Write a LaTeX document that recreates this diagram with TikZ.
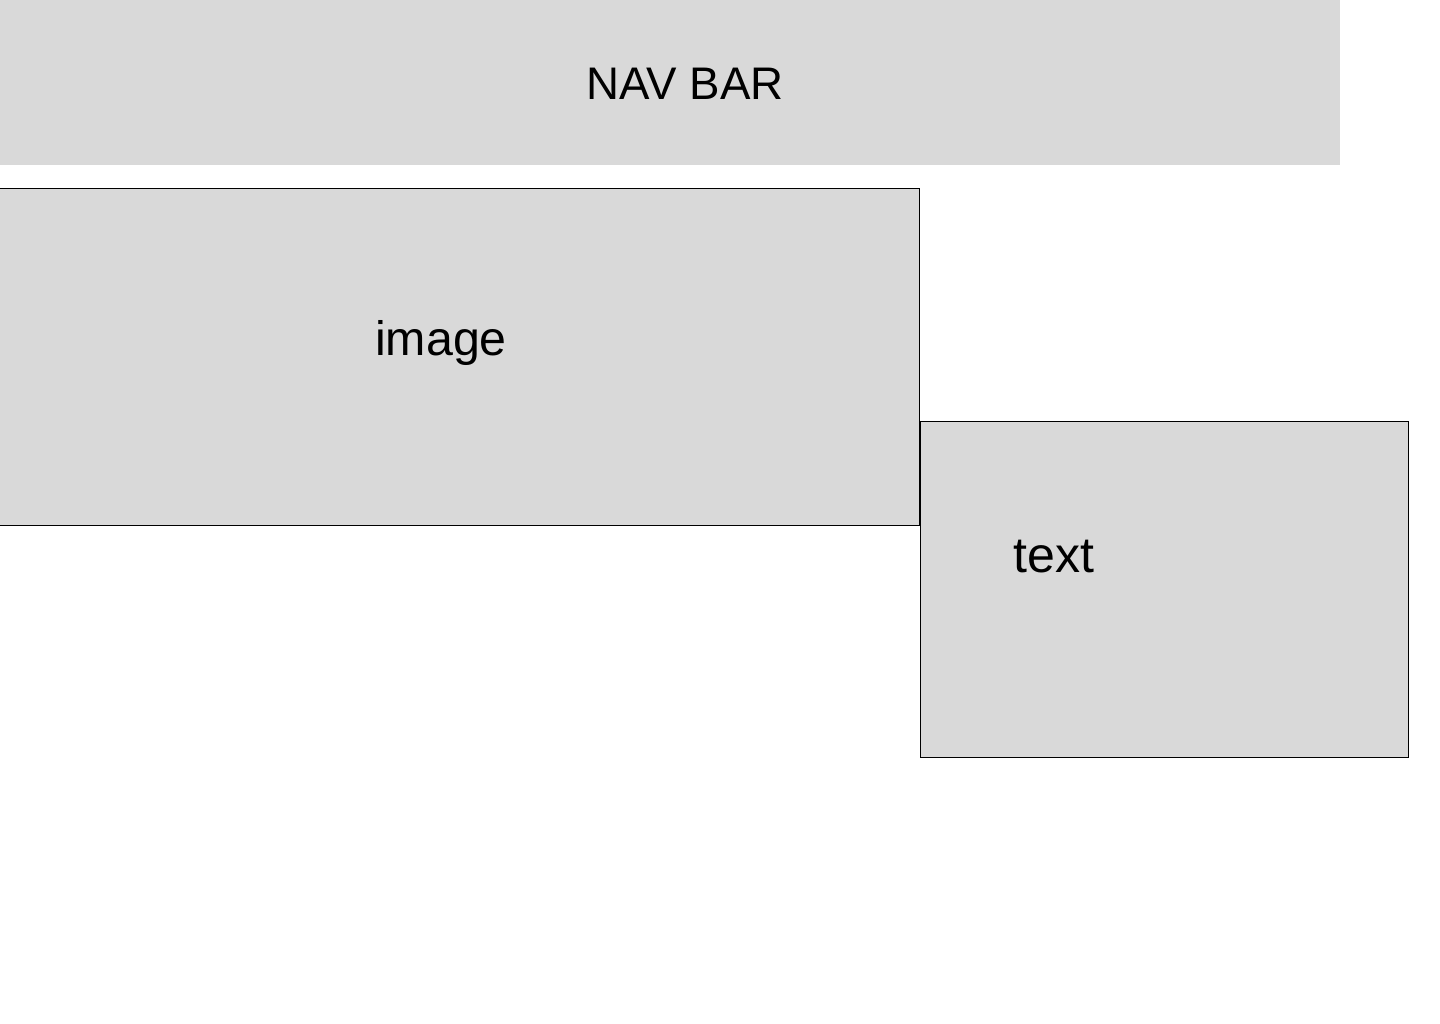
\documentclass[tikz,border=0pt]{standalone}
\usepackage{fontspec}
\setmainfont{Liberation Sans}
\usepackage{xcolor}
\definecolor{panelgray}{HTML}{D9D9D9}
\usetikzlibrary{positioning}

\begin{document}
\begin{tikzpicture}[
  x=0.02cm, y=-0.02cm,
  navbox/.style={rectangle, fill=panelgray, inner sep=0pt, anchor=north west},
  panel/.style={rectangle, draw=black, line width=0.6pt, fill=panelgray, inner sep=0pt, anchor=north west},
  caption/.style={anchor=base, inner sep=0pt, font=\fontsize{26}{30}\selectfont}
]
\useasboundingbox (0,0) rectangle (1440,1024);
% Boxes
\node[navbox, minimum width=26.8cm,  minimum height=3.3cm]  (nav)   at (0,0)     {};
\node[panel,  minimum width=18.42cm, minimum height=6.74cm] (image) at (-2,188)  {};
\node[panel,  minimum width=9.76cm,  minimum height=6.72cm] (text)  at (920,421) {};

% Labels
\node[caption] (navlabel)   at (685,100)  {NAV BAR};
\node[caption, font=\fontsize{27.5}{31}\selectfont] (imagelabel) at (441,355)  {image};
\node[caption, font=\fontsize{28.5}{32}\selectfont] (textlabel) at (1054,572) {text};
\end{tikzpicture}
\end{document}
